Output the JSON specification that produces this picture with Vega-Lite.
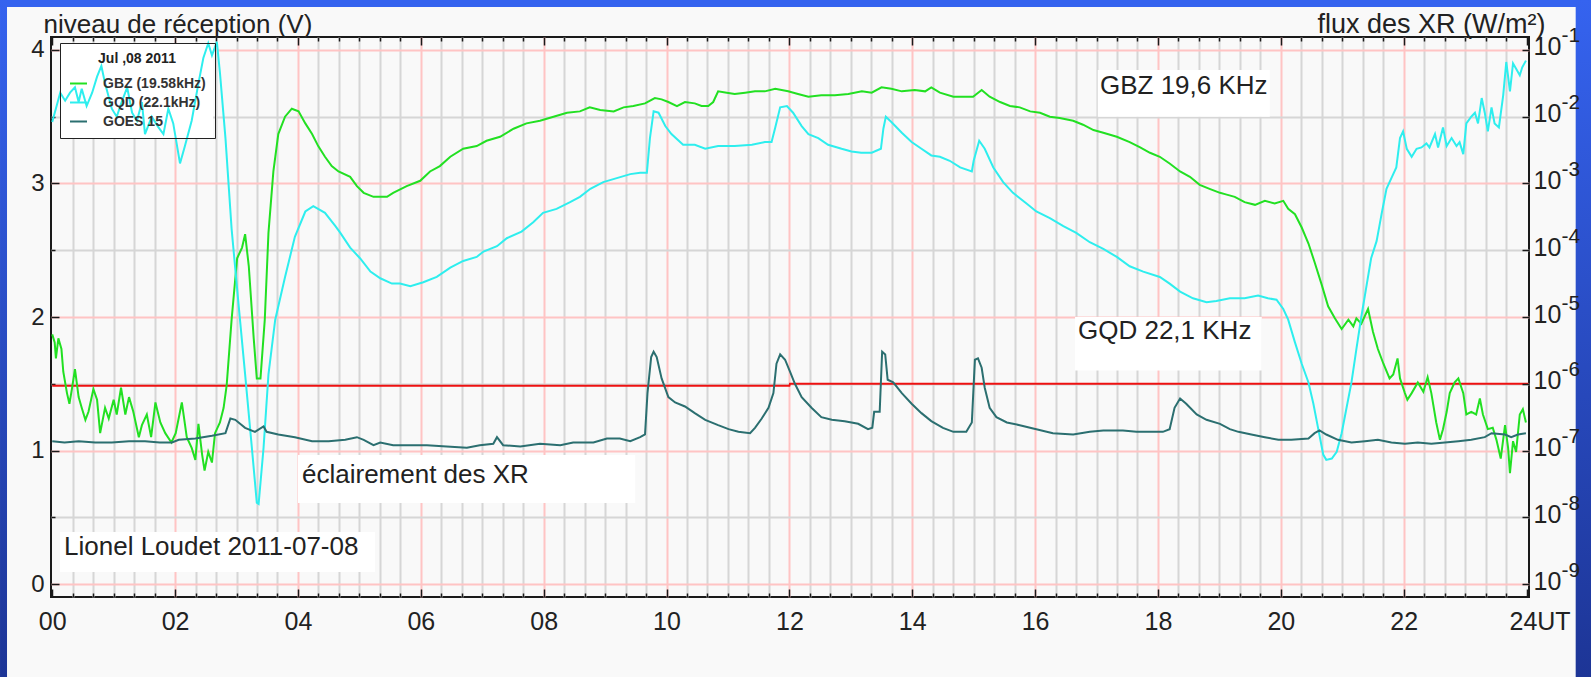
{
  "$schema": "https://vega.github.io/schema/vega-lite/v6.json",
  "width": 1478,
  "height": 560,
  "autosize": {"type": "none"},
  "padding": {"left": 51, "top": 37, "right": 62, "bottom": 80},
  "background": "#f9f9f9",
  "config": {
    "font": "Liberation Sans",
    "view": {"stroke": "#1a1a1a", "strokeWidth": 2, "fill": "#f9f9f9"}
  },
  "datasets": {
    "boxes": [
      {"h0": 17.02, "h1": 19.82, "v0": 3.50, "v1": 3.85},
      {"h0": 16.65, "h1": 19.69, "v0": 1.60, "v1": 2.00},
      {"h0": 4.00, "h1": 9.49, "v0": 0.607, "v1": 0.966},
      {"h0": 0.127, "h1": 5.254, "v0": 0.09, "v1": 0.39},
      {"h0": 0.127, "h1": 2.62, "v0": 3.34, "v1": 4.052}
    ],
    "notes": [
      {"t": "GBZ 19,6 KHz", "h": 17.056, "v": 3.73},
      {"t": "GQD 22,1 KHz", "h": 16.698, "v": 1.895},
      {"t": "éclairement des XR", "h": 4.066, "v": 0.817},
      {"t": "Lionel Loudet 2011-07-08", "h": 0.192, "v": 0.281}
    ],
    "seuil": [
      {"h": 0, "v": 1.485},
      {"h": 12.0, "v": 1.485},
      {"h": 12.01, "v": 1.5},
      {"h": 24.03, "v": 1.5}
    ],
    "series": [
      {"s":"GBZ","h":0.00,"v":1.87},{"s":"GBZ","h":0.04,"v":1.81},{"s":"GBZ","h":0.06,"v":1.69},{"s":"GBZ","h":0.10,"v":1.84},{"s":"GBZ","h":0.15,"v":1.76},{"s":"GBZ","h":0.18,"v":1.59},{"s":"GBZ","h":0.24,"v":1.43},{"s":"GBZ","h":0.28,"v":1.35},{"s":"GBZ","h":0.32,"v":1.46},{"s":"GBZ","h":0.37,"v":1.61},{"s":"GBZ","h":0.43,"v":1.40},{"s":"GBZ","h":0.48,"v":1.32},{"s":"GBZ","h":0.54,"v":1.23},{"s":"GBZ","h":0.59,"v":1.29},{"s":"GBZ","h":0.67,"v":1.46},{"s":"GBZ","h":0.73,"v":1.38},{"s":"GBZ","h":0.78,"v":1.13},{"s":"GBZ","h":0.86,"v":1.32},{"s":"GBZ","h":0.92,"v":1.24},{"s":"GBZ","h":1.00,"v":1.38},{"s":"GBZ","h":1.05,"v":1.27},{"s":"GBZ","h":1.12,"v":1.47},{"s":"GBZ","h":1.19,"v":1.27},{"s":"GBZ","h":1.25,"v":1.40},{"s":"GBZ","h":1.32,"v":1.29},{"s":"GBZ","h":1.41,"v":1.10},{"s":"GBZ","h":1.46,"v":1.19},{"s":"GBZ","h":1.54,"v":1.27},{"s":"GBZ","h":1.61,"v":1.10},{"s":"GBZ","h":1.68,"v":1.36},{"s":"GBZ","h":1.76,"v":1.21},{"s":"GBZ","h":1.84,"v":1.13},{"s":"GBZ","h":1.94,"v":1.06},{"s":"GBZ","h":2.01,"v":1.13},{"s":"GBZ","h":2.11,"v":1.36},{"s":"GBZ","h":2.19,"v":1.10},{"s":"GBZ","h":2.27,"v":1.02},{"s":"GBZ","h":2.33,"v":0.93},{"s":"GBZ","h":2.38,"v":1.20},{"s":"GBZ","h":2.44,"v":0.97},{"s":"GBZ","h":2.48,"v":0.85},{"s":"GBZ","h":2.54,"v":0.99},{"s":"GBZ","h":2.60,"v":0.91},{"s":"GBZ","h":2.65,"v":1.13},{"s":"GBZ","h":2.73,"v":1.21},{"s":"GBZ","h":2.79,"v":1.32},{"s":"GBZ","h":2.84,"v":1.49},{"s":"GBZ","h":2.92,"v":1.98},{"s":"GBZ","h":3.01,"v":2.44},{"s":"GBZ","h":3.09,"v":2.52},{"s":"GBZ","h":3.14,"v":2.62},{"s":"GBZ","h":3.20,"v":2.38},{"s":"GBZ","h":3.28,"v":1.84},{"s":"GBZ","h":3.33,"v":1.54},{"s":"GBZ","h":3.39,"v":1.54},{"s":"GBZ","h":3.46,"v":1.98},{"s":"GBZ","h":3.52,"v":2.63},{"s":"GBZ","h":3.60,"v":3.09},{"s":"GBZ","h":3.68,"v":3.37},{"s":"GBZ","h":3.79,"v":3.50},{"s":"GBZ","h":3.90,"v":3.56},{"s":"GBZ","h":4.01,"v":3.54},{"s":"GBZ","h":4.12,"v":3.45},{"s":"GBZ","h":4.23,"v":3.37},{"s":"GBZ","h":4.33,"v":3.28},{"s":"GBZ","h":4.44,"v":3.20},{"s":"GBZ","h":4.55,"v":3.13},{"s":"GBZ","h":4.66,"v":3.09},{"s":"GBZ","h":4.85,"v":3.05},{"s":"GBZ","h":4.96,"v":2.98},{"s":"GBZ","h":5.07,"v":2.93},{"s":"GBZ","h":5.23,"v":2.90},{"s":"GBZ","h":5.45,"v":2.90},{"s":"GBZ","h":5.55,"v":2.93},{"s":"GBZ","h":5.77,"v":2.98},{"s":"GBZ","h":5.99,"v":3.02},{"s":"GBZ","h":6.15,"v":3.09},{"s":"GBZ","h":6.31,"v":3.13},{"s":"GBZ","h":6.48,"v":3.20},{"s":"GBZ","h":6.69,"v":3.26},{"s":"GBZ","h":6.91,"v":3.28},{"s":"GBZ","h":7.07,"v":3.32},{"s":"GBZ","h":7.29,"v":3.35},{"s":"GBZ","h":7.51,"v":3.41},{"s":"GBZ","h":7.72,"v":3.45},{"s":"GBZ","h":7.94,"v":3.47},{"s":"GBZ","h":8.16,"v":3.50},{"s":"GBZ","h":8.38,"v":3.53},{"s":"GBZ","h":8.59,"v":3.54},{"s":"GBZ","h":8.75,"v":3.57},{"s":"GBZ","h":8.92,"v":3.55},{"s":"GBZ","h":9.14,"v":3.54},{"s":"GBZ","h":9.30,"v":3.57},{"s":"GBZ","h":9.46,"v":3.58},{"s":"GBZ","h":9.65,"v":3.60},{"s":"GBZ","h":9.81,"v":3.64},{"s":"GBZ","h":9.92,"v":3.63},{"s":"GBZ","h":10.03,"v":3.61},{"s":"GBZ","h":10.17,"v":3.58},{"s":"GBZ","h":10.30,"v":3.61},{"s":"GBZ","h":10.46,"v":3.60},{"s":"GBZ","h":10.57,"v":3.58},{"s":"GBZ","h":10.68,"v":3.58},{"s":"GBZ","h":10.76,"v":3.61},{"s":"GBZ","h":10.84,"v":3.69},{"s":"GBZ","h":10.98,"v":3.68},{"s":"GBZ","h":11.11,"v":3.67},{"s":"GBZ","h":11.28,"v":3.68},{"s":"GBZ","h":11.44,"v":3.69},{"s":"GBZ","h":11.60,"v":3.69},{"s":"GBZ","h":11.77,"v":3.71},{"s":"GBZ","h":11.98,"v":3.69},{"s":"GBZ","h":12.14,"v":3.67},{"s":"GBZ","h":12.31,"v":3.65},{"s":"GBZ","h":12.52,"v":3.66},{"s":"GBZ","h":12.74,"v":3.66},{"s":"GBZ","h":12.96,"v":3.67},{"s":"GBZ","h":13.18,"v":3.69},{"s":"GBZ","h":13.34,"v":3.68},{"s":"GBZ","h":13.50,"v":3.72},{"s":"GBZ","h":13.66,"v":3.71},{"s":"GBZ","h":13.83,"v":3.69},{"s":"GBZ","h":14.04,"v":3.70},{"s":"GBZ","h":14.21,"v":3.69},{"s":"GBZ","h":14.31,"v":3.72},{"s":"GBZ","h":14.45,"v":3.68},{"s":"GBZ","h":14.67,"v":3.65},{"s":"GBZ","h":14.83,"v":3.65},{"s":"GBZ","h":14.99,"v":3.65},{"s":"GBZ","h":15.13,"v":3.70},{"s":"GBZ","h":15.26,"v":3.65},{"s":"GBZ","h":15.43,"v":3.61},{"s":"GBZ","h":15.59,"v":3.58},{"s":"GBZ","h":15.75,"v":3.57},{"s":"GBZ","h":15.92,"v":3.54},{"s":"GBZ","h":16.08,"v":3.53},{"s":"GBZ","h":16.24,"v":3.50},{"s":"GBZ","h":16.40,"v":3.49},{"s":"GBZ","h":16.62,"v":3.47},{"s":"GBZ","h":16.78,"v":3.44},{"s":"GBZ","h":16.95,"v":3.40},{"s":"GBZ","h":17.11,"v":3.38},{"s":"GBZ","h":17.33,"v":3.35},{"s":"GBZ","h":17.54,"v":3.31},{"s":"GBZ","h":17.71,"v":3.27},{"s":"GBZ","h":17.87,"v":3.23},{"s":"GBZ","h":18.03,"v":3.20},{"s":"GBZ","h":18.19,"v":3.15},{"s":"GBZ","h":18.36,"v":3.09},{"s":"GBZ","h":18.52,"v":3.05},{"s":"GBZ","h":18.68,"v":2.99},{"s":"GBZ","h":18.84,"v":2.96},{"s":"GBZ","h":19.01,"v":2.93},{"s":"GBZ","h":19.09,"v":2.92},{"s":"GBZ","h":19.25,"v":2.90},{"s":"GBZ","h":19.41,"v":2.86},{"s":"GBZ","h":19.58,"v":2.84},{"s":"GBZ","h":19.74,"v":2.87},{"s":"GBZ","h":19.90,"v":2.85},{"s":"GBZ","h":20.04,"v":2.87},{"s":"GBZ","h":20.12,"v":2.81},{"s":"GBZ","h":20.23,"v":2.77},{"s":"GBZ","h":20.34,"v":2.67},{"s":"GBZ","h":20.45,"v":2.55},{"s":"GBZ","h":20.55,"v":2.41},{"s":"GBZ","h":20.66,"v":2.25},{"s":"GBZ","h":20.77,"v":2.08},{"s":"GBZ","h":20.88,"v":1.99},{"s":"GBZ","h":20.99,"v":1.91},{"s":"GBZ","h":21.10,"v":1.98},{"s":"GBZ","h":21.18,"v":1.93},{"s":"GBZ","h":21.23,"v":1.99},{"s":"GBZ","h":21.31,"v":1.95},{"s":"GBZ","h":21.42,"v":2.06},{"s":"GBZ","h":21.50,"v":1.89},{"s":"GBZ","h":21.58,"v":1.76},{"s":"GBZ","h":21.67,"v":1.65},{"s":"GBZ","h":21.77,"v":1.54},{"s":"GBZ","h":21.83,"v":1.57},{"s":"GBZ","h":21.90,"v":1.69},{"s":"GBZ","h":21.94,"v":1.54},{"s":"GBZ","h":22.02,"v":1.43},{"s":"GBZ","h":22.06,"v":1.38},{"s":"GBZ","h":22.13,"v":1.43},{"s":"GBZ","h":22.23,"v":1.51},{"s":"GBZ","h":22.32,"v":1.44},{"s":"GBZ","h":22.39,"v":1.55},{"s":"GBZ","h":22.45,"v":1.43},{"s":"GBZ","h":22.53,"v":1.21},{"s":"GBZ","h":22.59,"v":1.08},{"s":"GBZ","h":22.64,"v":1.16},{"s":"GBZ","h":22.70,"v":1.29},{"s":"GBZ","h":22.75,"v":1.43},{"s":"GBZ","h":22.83,"v":1.51},{"s":"GBZ","h":22.89,"v":1.54},{"s":"GBZ","h":22.97,"v":1.43},{"s":"GBZ","h":23.02,"v":1.27},{"s":"GBZ","h":23.10,"v":1.29},{"s":"GBZ","h":23.18,"v":1.27},{"s":"GBZ","h":23.24,"v":1.39},{"s":"GBZ","h":23.29,"v":1.27},{"s":"GBZ","h":23.37,"v":1.16},{"s":"GBZ","h":23.45,"v":1.17},{"s":"GBZ","h":23.51,"v":1.08},{"s":"GBZ","h":23.58,"v":0.94},{"s":"GBZ","h":23.65,"v":1.19},{"s":"GBZ","h":23.70,"v":1.02},{"s":"GBZ","h":23.73,"v":0.83},{"s":"GBZ","h":23.78,"v":1.07},{"s":"GBZ","h":23.83,"v":0.99},{"s":"GBZ","h":23.89,"v":1.27},{"s":"GBZ","h":23.94,"v":1.31},{"s":"GBZ","h":23.99,"v":1.21},
      {"s":"GQD","h":0.00,"v":3.46},{"s":"GQD","h":0.13,"v":3.68},{"s":"GQD","h":0.21,"v":3.62},{"s":"GQD","h":0.29,"v":3.68},{"s":"GQD","h":0.37,"v":3.72},{"s":"GQD","h":0.43,"v":3.61},{"s":"GQD","h":0.48,"v":3.71},{"s":"GQD","h":0.56,"v":3.58},{"s":"GQD","h":0.65,"v":3.68},{"s":"GQD","h":0.73,"v":3.80},{"s":"GQD","h":0.80,"v":3.88},{"s":"GQD","h":0.86,"v":3.75},{"s":"GQD","h":0.97,"v":3.56},{"s":"GQD","h":1.05,"v":3.50},{"s":"GQD","h":1.13,"v":3.61},{"s":"GQD","h":1.22,"v":3.72},{"s":"GQD","h":1.30,"v":3.53},{"s":"GQD","h":1.38,"v":3.47},{"s":"GQD","h":1.46,"v":3.61},{"s":"GQD","h":1.51,"v":3.37},{"s":"GQD","h":1.62,"v":3.50},{"s":"GQD","h":1.73,"v":3.42},{"s":"GQD","h":1.81,"v":3.37},{"s":"GQD","h":1.89,"v":3.56},{"s":"GQD","h":1.97,"v":3.45},{"s":"GQD","h":2.08,"v":3.15},{"s":"GQD","h":2.16,"v":3.28},{"s":"GQD","h":2.27,"v":3.47},{"s":"GQD","h":2.38,"v":3.75},{"s":"GQD","h":2.46,"v":3.94},{"s":"GQD","h":2.54,"v":4.05},{"s":"GQD","h":2.60,"v":3.96},{"s":"GQD","h":2.68,"v":4.06},{"s":"GQD","h":2.73,"v":3.83},{"s":"GQD","h":2.82,"v":3.34},{"s":"GQD","h":2.92,"v":2.66},{"s":"GQD","h":3.03,"v":2.11},{"s":"GQD","h":3.14,"v":1.57},{"s":"GQD","h":3.25,"v":1.02},{"s":"GQD","h":3.33,"v":0.61},{"s":"GQD","h":3.36,"v":0.60},{"s":"GQD","h":3.44,"v":1.02},{"s":"GQD","h":3.52,"v":1.57},{"s":"GQD","h":3.63,"v":1.98},{"s":"GQD","h":3.79,"v":2.30},{"s":"GQD","h":3.95,"v":2.60},{"s":"GQD","h":4.12,"v":2.79},{"s":"GQD","h":4.25,"v":2.83},{"s":"GQD","h":4.44,"v":2.78},{"s":"GQD","h":4.61,"v":2.68},{"s":"GQD","h":4.69,"v":2.63},{"s":"GQD","h":4.85,"v":2.52},{"s":"GQD","h":5.01,"v":2.44},{"s":"GQD","h":5.18,"v":2.34},{"s":"GQD","h":5.34,"v":2.29},{"s":"GQD","h":5.53,"v":2.25},{"s":"GQD","h":5.66,"v":2.25},{"s":"GQD","h":5.83,"v":2.23},{"s":"GQD","h":6.04,"v":2.26},{"s":"GQD","h":6.26,"v":2.30},{"s":"GQD","h":6.48,"v":2.37},{"s":"GQD","h":6.69,"v":2.42},{"s":"GQD","h":6.91,"v":2.45},{"s":"GQD","h":7.02,"v":2.49},{"s":"GQD","h":7.24,"v":2.53},{"s":"GQD","h":7.40,"v":2.59},{"s":"GQD","h":7.64,"v":2.64},{"s":"GQD","h":7.83,"v":2.71},{"s":"GQD","h":7.99,"v":2.78},{"s":"GQD","h":8.21,"v":2.81},{"s":"GQD","h":8.43,"v":2.86},{"s":"GQD","h":8.59,"v":2.90},{"s":"GQD","h":8.76,"v":2.96},{"s":"GQD","h":8.97,"v":3.01},{"s":"GQD","h":9.19,"v":3.04},{"s":"GQD","h":9.41,"v":3.07},{"s":"GQD","h":9.57,"v":3.08},{"s":"GQD","h":9.68,"v":3.08},{"s":"GQD","h":9.73,"v":3.34},{"s":"GQD","h":9.79,"v":3.54},{"s":"GQD","h":9.87,"v":3.53},{"s":"GQD","h":9.98,"v":3.43},{"s":"GQD","h":10.08,"v":3.37},{"s":"GQD","h":10.27,"v":3.29},{"s":"GQD","h":10.46,"v":3.29},{"s":"GQD","h":10.63,"v":3.26},{"s":"GQD","h":10.84,"v":3.28},{"s":"GQD","h":11.11,"v":3.28},{"s":"GQD","h":11.39,"v":3.29},{"s":"GQD","h":11.60,"v":3.31},{"s":"GQD","h":11.71,"v":3.31},{"s":"GQD","h":11.77,"v":3.42},{"s":"GQD","h":11.85,"v":3.57},{"s":"GQD","h":11.96,"v":3.58},{"s":"GQD","h":12.06,"v":3.53},{"s":"GQD","h":12.20,"v":3.43},{"s":"GQD","h":12.31,"v":3.37},{"s":"GQD","h":12.47,"v":3.34},{"s":"GQD","h":12.63,"v":3.29},{"s":"GQD","h":12.85,"v":3.26},{"s":"GQD","h":13.01,"v":3.24},{"s":"GQD","h":13.17,"v":3.23},{"s":"GQD","h":13.34,"v":3.23},{"s":"GQD","h":13.49,"v":3.26},{"s":"GQD","h":13.53,"v":3.41},{"s":"GQD","h":13.57,"v":3.50},{"s":"GQD","h":13.66,"v":3.46},{"s":"GQD","h":13.83,"v":3.38},{"s":"GQD","h":13.99,"v":3.31},{"s":"GQD","h":14.15,"v":3.26},{"s":"GQD","h":14.31,"v":3.21},{"s":"GQD","h":14.45,"v":3.20},{"s":"GQD","h":14.61,"v":3.17},{"s":"GQD","h":14.78,"v":3.12},{"s":"GQD","h":14.97,"v":3.09},{"s":"GQD","h":15.00,"v":3.17},{"s":"GQD","h":15.09,"v":3.32},{"s":"GQD","h":15.18,"v":3.26},{"s":"GQD","h":15.32,"v":3.12},{"s":"GQD","h":15.48,"v":3.01},{"s":"GQD","h":15.64,"v":2.93},{"s":"GQD","h":15.86,"v":2.85},{"s":"GQD","h":16.02,"v":2.79},{"s":"GQD","h":16.24,"v":2.74},{"s":"GQD","h":16.46,"v":2.68},{"s":"GQD","h":16.67,"v":2.63},{"s":"GQD","h":16.89,"v":2.56},{"s":"GQD","h":17.11,"v":2.51},{"s":"GQD","h":17.33,"v":2.45},{"s":"GQD","h":17.54,"v":2.38},{"s":"GQD","h":17.76,"v":2.34},{"s":"GQD","h":18.03,"v":2.30},{"s":"GQD","h":18.19,"v":2.25},{"s":"GQD","h":18.36,"v":2.19},{"s":"GQD","h":18.57,"v":2.14},{"s":"GQD","h":18.79,"v":2.11},{"s":"GQD","h":18.95,"v":2.12},{"s":"GQD","h":19.17,"v":2.14},{"s":"GQD","h":19.41,"v":2.14},{"s":"GQD","h":19.63,"v":2.16},{"s":"GQD","h":19.79,"v":2.14},{"s":"GQD","h":19.93,"v":2.13},{"s":"GQD","h":20.04,"v":2.06},{"s":"GQD","h":20.12,"v":1.98},{"s":"GQD","h":20.23,"v":1.81},{"s":"GQD","h":20.34,"v":1.65},{"s":"GQD","h":20.45,"v":1.51},{"s":"GQD","h":20.53,"v":1.35},{"s":"GQD","h":20.61,"v":1.16},{"s":"GQD","h":20.69,"v":0.97},{"s":"GQD","h":20.74,"v":0.93},{"s":"GQD","h":20.83,"v":0.94},{"s":"GQD","h":20.91,"v":0.99},{"s":"GQD","h":20.99,"v":1.13},{"s":"GQD","h":21.07,"v":1.32},{"s":"GQD","h":21.15,"v":1.51},{"s":"GQD","h":21.23,"v":1.76},{"s":"GQD","h":21.31,"v":2.00},{"s":"GQD","h":21.39,"v":2.22},{"s":"GQD","h":21.47,"v":2.44},{"s":"GQD","h":21.56,"v":2.57},{"s":"GQD","h":21.64,"v":2.77},{"s":"GQD","h":21.72,"v":2.96},{"s":"GQD","h":21.80,"v":3.04},{"s":"GQD","h":21.88,"v":3.12},{"s":"GQD","h":21.94,"v":3.34},{"s":"GQD","h":21.99,"v":3.39},{"s":"GQD","h":22.05,"v":3.26},{"s":"GQD","h":22.13,"v":3.20},{"s":"GQD","h":22.21,"v":3.26},{"s":"GQD","h":22.29,"v":3.27},{"s":"GQD","h":22.37,"v":3.30},{"s":"GQD","h":22.42,"v":3.27},{"s":"GQD","h":22.51,"v":3.37},{"s":"GQD","h":22.56,"v":3.27},{"s":"GQD","h":22.64,"v":3.42},{"s":"GQD","h":22.70,"v":3.28},{"s":"GQD","h":22.78,"v":3.34},{"s":"GQD","h":22.86,"v":3.28},{"s":"GQD","h":22.91,"v":3.31},{"s":"GQD","h":22.97,"v":3.22},{"s":"GQD","h":23.02,"v":3.45},{"s":"GQD","h":23.10,"v":3.50},{"s":"GQD","h":23.16,"v":3.53},{"s":"GQD","h":23.21,"v":3.45},{"s":"GQD","h":23.27,"v":3.64},{"s":"GQD","h":23.32,"v":3.53},{"s":"GQD","h":23.37,"v":3.39},{"s":"GQD","h":23.43,"v":3.57},{"s":"GQD","h":23.48,"v":3.45},{"s":"GQD","h":23.55,"v":3.42},{"s":"GQD","h":23.62,"v":3.66},{"s":"GQD","h":23.67,"v":3.91},{"s":"GQD","h":23.73,"v":3.69},{"s":"GQD","h":23.78,"v":3.90},{"s":"GQD","h":23.83,"v":3.86},{"s":"GQD","h":23.89,"v":3.81},{"s":"GQD","h":23.93,"v":3.87},{"s":"GQD","h":23.99,"v":3.92},
      {"s":"GOES","h":0.00,"v":1.07},{"s":"GOES","h":0.20,"v":1.06},{"s":"GOES","h":0.43,"v":1.07},{"s":"GOES","h":0.70,"v":1.06},{"s":"GOES","h":0.97,"v":1.06},{"s":"GOES","h":1.25,"v":1.07},{"s":"GOES","h":1.51,"v":1.07},{"s":"GOES","h":1.75,"v":1.06},{"s":"GOES","h":1.95,"v":1.06},{"s":"GOES","h":2.06,"v":1.08},{"s":"GOES","h":2.33,"v":1.09},{"s":"GOES","h":2.60,"v":1.11},{"s":"GOES","h":2.82,"v":1.13},{"s":"GOES","h":2.90,"v":1.24},{"s":"GOES","h":2.98,"v":1.23},{"s":"GOES","h":3.14,"v":1.17},{"s":"GOES","h":3.30,"v":1.14},{"s":"GOES","h":3.44,"v":1.18},{"s":"GOES","h":3.49,"v":1.14},{"s":"GOES","h":3.68,"v":1.12},{"s":"GOES","h":3.95,"v":1.10},{"s":"GOES","h":4.23,"v":1.07},{"s":"GOES","h":4.50,"v":1.07},{"s":"GOES","h":4.77,"v":1.08},{"s":"GOES","h":4.96,"v":1.10},{"s":"GOES","h":5.07,"v":1.08},{"s":"GOES","h":5.23,"v":1.04},{"s":"GOES","h":5.34,"v":1.06},{"s":"GOES","h":5.55,"v":1.04},{"s":"GOES","h":5.77,"v":1.04},{"s":"GOES","h":6.10,"v":1.04},{"s":"GOES","h":6.42,"v":1.03},{"s":"GOES","h":6.75,"v":1.02},{"s":"GOES","h":6.96,"v":1.04},{"s":"GOES","h":7.18,"v":1.05},{"s":"GOES","h":7.24,"v":1.10},{"s":"GOES","h":7.34,"v":1.04},{"s":"GOES","h":7.62,"v":1.03},{"s":"GOES","h":7.94,"v":1.05},{"s":"GOES","h":8.27,"v":1.04},{"s":"GOES","h":8.48,"v":1.06},{"s":"GOES","h":8.81,"v":1.06},{"s":"GOES","h":9.03,"v":1.09},{"s":"GOES","h":9.24,"v":1.09},{"s":"GOES","h":9.41,"v":1.07},{"s":"GOES","h":9.57,"v":1.10},{"s":"GOES","h":9.65,"v":1.12},{"s":"GOES","h":9.69,"v":1.43},{"s":"GOES","h":9.75,"v":1.70},{"s":"GOES","h":9.79,"v":1.74},{"s":"GOES","h":9.84,"v":1.70},{"s":"GOES","h":9.92,"v":1.54},{"s":"GOES","h":10.03,"v":1.40},{"s":"GOES","h":10.14,"v":1.36},{"s":"GOES","h":10.30,"v":1.33},{"s":"GOES","h":10.46,"v":1.28},{"s":"GOES","h":10.63,"v":1.23},{"s":"GOES","h":10.84,"v":1.19},{"s":"GOES","h":11.01,"v":1.16},{"s":"GOES","h":11.17,"v":1.14},{"s":"GOES","h":11.36,"v":1.13},{"s":"GOES","h":11.44,"v":1.17},{"s":"GOES","h":11.55,"v":1.24},{"s":"GOES","h":11.66,"v":1.32},{"s":"GOES","h":11.74,"v":1.43},{"s":"GOES","h":11.79,"v":1.65},{"s":"GOES","h":11.85,"v":1.72},{"s":"GOES","h":11.93,"v":1.68},{"s":"GOES","h":12.01,"v":1.59},{"s":"GOES","h":12.09,"v":1.50},{"s":"GOES","h":12.20,"v":1.40},{"s":"GOES","h":12.36,"v":1.32},{"s":"GOES","h":12.52,"v":1.25},{"s":"GOES","h":12.69,"v":1.23},{"s":"GOES","h":12.90,"v":1.22},{"s":"GOES","h":13.12,"v":1.20},{"s":"GOES","h":13.28,"v":1.16},{"s":"GOES","h":13.35,"v":1.17},{"s":"GOES","h":13.38,"v":1.29},{"s":"GOES","h":13.47,"v":1.29},{"s":"GOES","h":13.51,"v":1.74},{"s":"GOES","h":13.56,"v":1.72},{"s":"GOES","h":13.60,"v":1.53},{"s":"GOES","h":13.69,"v":1.51},{"s":"GOES","h":13.83,"v":1.43},{"s":"GOES","h":13.99,"v":1.35},{"s":"GOES","h":14.15,"v":1.28},{"s":"GOES","h":14.31,"v":1.22},{"s":"GOES","h":14.50,"v":1.17},{"s":"GOES","h":14.67,"v":1.14},{"s":"GOES","h":14.88,"v":1.14},{"s":"GOES","h":14.97,"v":1.21},{"s":"GOES","h":15.02,"v":1.68},{"s":"GOES","h":15.07,"v":1.69},{"s":"GOES","h":15.13,"v":1.62},{"s":"GOES","h":15.18,"v":1.47},{"s":"GOES","h":15.26,"v":1.32},{"s":"GOES","h":15.37,"v":1.25},{"s":"GOES","h":15.54,"v":1.21},{"s":"GOES","h":15.75,"v":1.19},{"s":"GOES","h":16.02,"v":1.16},{"s":"GOES","h":16.29,"v":1.13},{"s":"GOES","h":16.62,"v":1.12},{"s":"GOES","h":16.89,"v":1.14},{"s":"GOES","h":17.11,"v":1.15},{"s":"GOES","h":17.43,"v":1.15},{"s":"GOES","h":17.65,"v":1.14},{"s":"GOES","h":18.08,"v":1.14},{"s":"GOES","h":18.19,"v":1.16},{"s":"GOES","h":18.27,"v":1.32},{"s":"GOES","h":18.36,"v":1.39},{"s":"GOES","h":18.46,"v":1.35},{"s":"GOES","h":18.63,"v":1.27},{"s":"GOES","h":18.79,"v":1.23},{"s":"GOES","h":19.01,"v":1.20},{"s":"GOES","h":19.17,"v":1.16},{"s":"GOES","h":19.31,"v":1.14},{"s":"GOES","h":19.52,"v":1.12},{"s":"GOES","h":19.74,"v":1.10},{"s":"GOES","h":19.96,"v":1.08},{"s":"GOES","h":20.17,"v":1.08},{"s":"GOES","h":20.45,"v":1.09},{"s":"GOES","h":20.55,"v":1.13},{"s":"GOES","h":20.63,"v":1.15},{"s":"GOES","h":20.74,"v":1.12},{"s":"GOES","h":20.93,"v":1.08},{"s":"GOES","h":21.15,"v":1.06},{"s":"GOES","h":21.37,"v":1.07},{"s":"GOES","h":21.58,"v":1.08},{"s":"GOES","h":21.80,"v":1.06},{"s":"GOES","h":22.02,"v":1.05},{"s":"GOES","h":22.23,"v":1.06},{"s":"GOES","h":22.45,"v":1.05},{"s":"GOES","h":22.67,"v":1.06},{"s":"GOES","h":22.89,"v":1.07},{"s":"GOES","h":23.10,"v":1.08},{"s":"GOES","h":23.32,"v":1.10},{"s":"GOES","h":23.43,"v":1.13},{"s":"GOES","h":23.65,"v":1.12},{"s":"GOES","h":23.75,"v":1.10},{"s":"GOES","h":23.86,"v":1.12},{"s":"GOES","h":23.99,"v":1.13}
    ]
  },
  "layer": [
    {
      "data": {"name": "boxes"},
      "mark": {"type": "rect", "color": "#ffffff"},
      "encoding": {
        "x": {"field": "h0", "type": "quantitative",
          "scale": {"domain": [-0.02, 24.04], "nice": false, "zero": false},
          "axis": {"orient": "bottom", "title": null, "domain": false, "labels": false,
            "values": [0.3333,0.6667,1,1.3333,1.6667,2.3333,2.6667,3,3.3333,3.6667,4.3333,4.6667,5,5.3333,5.6667,6.3333,6.6667,7,7.3333,7.6667,8.3333,8.6667,9,9.3333,9.6667,10.3333,10.6667,11,11.3333,11.6667,12.3333,12.6667,13,13.3333,13.6667,14.3333,14.6667,15,15.3333,15.6667,16.3333,16.6667,17,17.3333,17.6667,18.3333,18.6667,19,19.3333,19.6667,20.3333,20.6667,21,21.3333,21.6667,22.3333,22.6667,23,23.3333,23.6667],
            "grid": true, "gridColor": "#d6d6d6", "gridWidth": 2,
            "ticks": true, "tickSize": -4, "tickColor": "#1a1a1a", "tickWidth": 1.5}},
        "x2": {"field": "h1"},
        "y": {"field": "v0", "type": "quantitative",
          "scale": {"domain": [-0.097, 4.097], "nice": false, "zero": false},
          "axis": {"orient": "left", "title": null, "domain": false, "labels": false,
            "values": [0.5, 1.5, 2.5, 3.5],
            "grid": true, "gridColor": "#d6d6d6", "gridWidth": 2,
            "ticks": true, "tickSize": -4, "tickColor": "#1a1a1a", "tickWidth": 1.5}},
        "y2": {"field": "v1"}
      }
    },
    {
      "data": {"name": "seuil"},
      "mark": {"type": "line", "color": "#ee1111", "strokeWidth": 2},
      "encoding": {
        "x": {"field": "h", "type": "quantitative",
          "scale": {"domain": [-0.02, 24.04], "nice": false, "zero": false},
          "axis": {"orient": "bottom", "title": null, "domain": false,
            "values": [0,2,4,6,8,10,12,14,16,18,20,22,24],
            "grid": true, "gridWidth": 2,
            "gridColor": {"condition": {"test": "datum.value == 0 || datum.value == 24", "value": "transparent"}, "value": "#ffc4c4"},
            "ticks": true, "tickSize": -8, "tickColor": "#1a1a1a", "tickWidth": 1.5,
            "labelExpr": "datum.value == 24 ? '24UT' : (datum.value < 10 ? '0' + datum.value : '' + datum.value)",
            "labelFontSize": 25, "labelColor": "#222222", "labelPadding": 20,
            "labelOverlap": false, "labelFlush": false, "labelBound": false,
            "labelOffset": {"condition": {"test": "datum.value == 24", "value": 13}, "value": 0}}},
        "y": {"field": "v", "type": "quantitative",
          "scale": {"domain": [-0.097, 4.097], "nice": false, "zero": false},
          "axis": {"orient": "left", "domain": false,
            "values": [0, 1, 2, 3, 4],
            "grid": true, "gridColor": "#ffc4c4", "gridWidth": 2,
            "ticks": true, "tickSize": -8, "tickColor": "#1a1a1a", "tickWidth": 1.5,
            "labelFontSize": 24, "labelColor": "#222222", "labelPadding": 15,
            "labelOverlap": false, "labelFlush": false, "labelBound": false,
            "title": "niveau de réception (V)", "titleAngle": 0, "titleAlign": "left",
            "titleBaseline": "alphabetic", "titleX": -8, "titleY": -5,
            "titleFontSize": 26, "titleFontWeight": "normal", "titleColor": "#222222"}}
      }
    },
    {
      "data": {"name": "series"},
      "mark": {"type": "line", "strokeWidth": 2},
      "encoding": {
        "x": {"field": "h", "type": "quantitative",
          "scale": {"domain": [-0.02, 24.04], "nice": false, "zero": false},
          "axis": {"orient": "top", "title": null, "domain": false, "labels": false, "grid": false,
            "values": [0.3333,0.6667,1,1.3333,1.6667,2.3333,2.6667,3,3.3333,3.6667,4.3333,4.6667,5,5.3333,5.6667,6.3333,6.6667,7,7.3333,7.6667,8.3333,8.6667,9,9.3333,9.6667,10.3333,10.6667,11,11.3333,11.6667,12.3333,12.6667,13,13.3333,13.6667,14.3333,14.6667,15,15.3333,15.6667,16.3333,16.6667,17,17.3333,17.6667,18.3333,18.6667,19,19.3333,19.6667,20.3333,20.6667,21,21.3333,21.6667,22.3333,22.6667,23,23.3333,23.6667],
            "ticks": true, "tickSize": -4, "tickColor": "#1a1a1a", "tickWidth": 1.5}},
        "y": {"field": "v", "type": "quantitative",
          "scale": {"domain": [-0.097, 4.097], "nice": false, "zero": false},
          "axis": {"orient": "right", "domain": false, "grid": false, "zindex": 1,
            "values": [0, 0.5, 1, 1.5, 2, 2.5, 3, 3.5, 4],
            "ticks": true, "tickSize": -7, "tickColor": "#1a1a1a", "tickWidth": 1.5,
            "labelExpr": "'10'", "labelFontSize": 25, "labelColor": "#222222", "labelPadding": 11,
            "labelOffset": -3, "labelOverlap": false, "labelFlush": false, "labelBound": false,
            "title": "flux des XR (W/m²)", "titleAngle": 0, "titleAlign": "right",
            "titleBaseline": "alphabetic", "titleX": 16, "titleY": -5,
            "titleFontSize": 27, "titleFontWeight": "normal", "titleColor": "#222222"}},
        "color": {"field": "s", "type": "nominal",
          "scale": {"domain": ["GBZ", "GQD", "GOES"], "range": ["#22e022", "#2eeeee", "#2b6f70"]},
          "legend": {"title": "Jul ,08 2011", "orient": "none", "legendX": 9, "legendY": 6,
            "direction": "vertical",
            "labelExpr": "datum.value == 'GBZ' ? 'GBZ (19.58kHz)' : (datum.value == 'GQD' ? 'GQD (22.1kHz)' : 'GOES 15')",
            "titleFontSize": 14, "titleFontWeight": "bold", "titleColor": "#222222", "titleAnchor": "middle",
            "titlePadding": 8, "labelFontSize": 14, "labelFontWeight": "bold", "labelColor": "#333333",
            "symbolType": "stroke", "symbolStrokeWidth": 2, "symbolSize": 289, "labelOffset": 15,
            "rowPadding": 2, "padding": 9, "strokeColor": "#222222"}}
      }
    },
    {
      "data": {"name": "notes"},
      "mark": {"type": "text", "align": "left", "baseline": "middle", "fontSize": 26, "color": "#222222"},
      "encoding": {
        "x": {"field": "h", "type": "quantitative",
          "scale": {"domain": [-0.02, 24.04], "nice": false, "zero": false},
          "axis": {"orient": "top", "title": null, "domain": false, "labels": false, "grid": false,
            "values": [0,2,4,6,8,10,12,14,16,18,20,22,24],
            "ticks": true, "tickSize": -8, "tickColor": "#1a1a1a", "tickWidth": 1.5}},
        "y": {"field": "v", "type": "quantitative",
          "scale": {"domain": [-0.097, 4.097], "nice": false, "zero": false},
          "axis": {"orient": "right", "domain": false, "grid": false, "ticks": false, "title": null, "zindex": 1,
            "values": [0, 0.5, 1, 1.5, 2, 2.5, 3, 3.5, 4],
            "labelExpr": "'-' + (9 - 2 * datum.value)", "labelFontSize": 21, "labelColor": "#222222",
            "labelPadding": 32, "labelOffset": -14, "labelOverlap": false, "labelFlush": false, "labelBound": false}},
        "text": {"field": "t", "type": "nominal"}
      }
    },
    {
      "data": {"values": [{}]},
      "mark": {"type": "rect", "color": "#3563ef"},
      "encoding": {
        "x": {"datum": -0.85, "type": "quantitative", "scale": {"domain": [-0.02, 24.04], "nice": false, "zero": false}, "axis": null},
        "x2": {"datum": 25.05},
        "y": {"datum": 4.374, "type": "quantitative", "scale": {"domain": [-0.097, 4.097], "nice": false, "zero": false}, "axis": null},
        "y2": {"datum": 4.322}
      }
    },
    {
      "data": {"values": [{}]},
      "mark": {"type": "rect", "color": {"gradient": "linear", "x1": 0, "y1": 0, "x2": 0, "y2": 1,
        "stops": [{"offset": 0, "color": "#3563ef"}, {"offset": 1, "color": "#1d3596"}]}},
      "encoding": {
        "x": {"datum": -0.85, "type": "quantitative", "scale": {"domain": [-0.02, 24.04], "nice": false, "zero": false}, "axis": null},
        "x2": {"datum": -0.736},
        "y": {"datum": 4.374, "type": "quantitative", "scale": {"domain": [-0.097, 4.097], "nice": false, "zero": false}, "axis": null},
        "y2": {"datum": -0.696}
      }
    },
    {
      "data": {"values": [{}]},
      "mark": {"type": "rect", "color": {"gradient": "linear", "x1": 0, "y1": 0, "x2": 0, "y2": 1,
        "stops": [{"offset": 0, "color": "#3563ef"}, {"offset": 1, "color": "#1d3596"}]}},
      "encoding": {
        "x": {"datum": 24.8, "type": "quantitative", "scale": {"domain": [-0.02, 24.04], "nice": false, "zero": false}, "axis": null},
        "x2": {"datum": 25.05},
        "y": {"datum": 4.374, "type": "quantitative", "scale": {"domain": [-0.097, 4.097], "nice": false, "zero": false}, "axis": null},
        "y2": {"datum": -0.696}
      }
    }
  ],
  "resolve": {"scale": {"x": "shared", "y": "shared"}, "axis": {"x": "independent", "y": "independent"}}
}
